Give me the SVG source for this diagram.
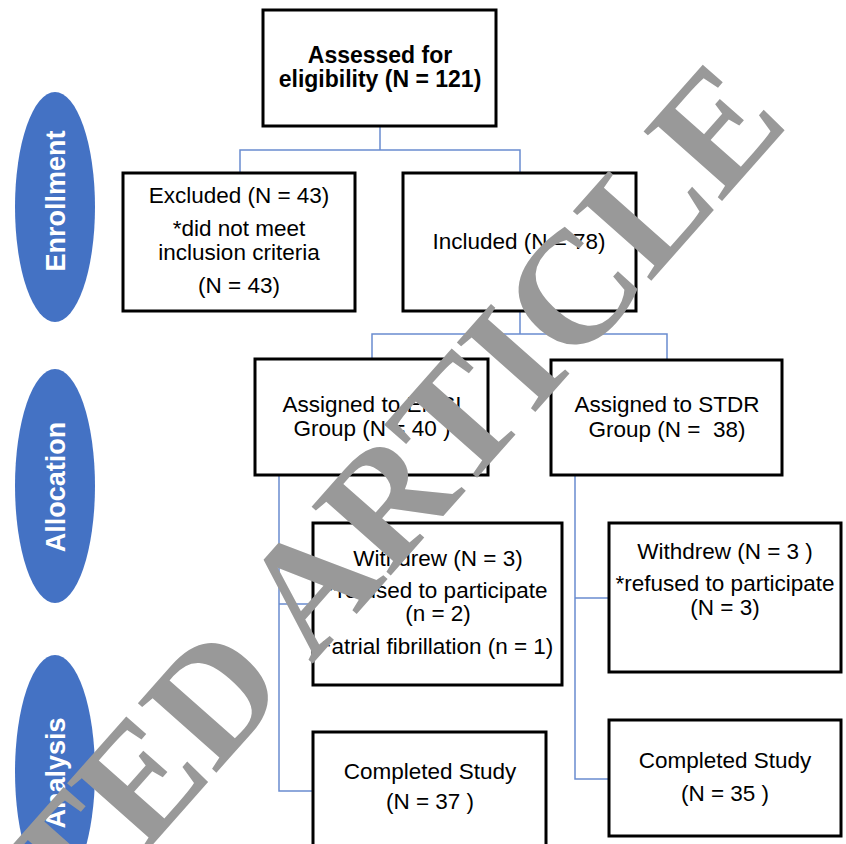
<svg xmlns="http://www.w3.org/2000/svg" width="846" height="844" viewBox="0 0 846 844">
<style>
.box{fill:#fff;stroke:#000;stroke-width:3}
.t{font-family:"Liberation Sans",Arial,sans-serif;font-size:22.5px;fill:#000;text-anchor:middle}
.tb{font-family:"Liberation Sans",Arial,sans-serif;font-size:23px;font-weight:bold;fill:#000;text-anchor:middle}
.ell{fill:#4472c4}
.et{font-family:"Liberation Sans",Arial,sans-serif;font-size:27px;font-weight:bold;fill:#fff;text-anchor:middle}
.c{fill:none;stroke:#6a8cd0;stroke-width:1.5}
.wm{font-family:"Liberation Serif","Times New Roman",serif;font-size:160px;font-weight:bold;fill:#999}
</style>
<rect width="846" height="844" fill="#fff"/>
<g id="connectors">
<path class="c" d="M380 126V150M240 173V150H520V173"/>
<path class="c" d="M520 311V334M372 359V334H667V360"/>
<path class="c" d="M279 475V791H313M279 604H313"/>
<path class="c" d="M575 475V779H609M575 598H609"/>
</g>
<g id="phase-enrollment"><ellipse class="ell" cx="55" cy="207" rx="40" ry="115"/><text class="et" transform="translate(65 201) rotate(-90)">Enrollment</text></g>
<g id="phase-allocation"><ellipse class="ell" cx="55" cy="486" rx="40" ry="117"/><text class="et" transform="translate(65 487) rotate(-90)">Allocation</text></g>
<g id="phase-analysis"><ellipse class="ell" cx="55" cy="772" rx="40" ry="117"/><text class="et" transform="translate(65 773) rotate(-90)">Analysis</text></g>
<g id="assessed"><rect class="box" x="263" y="10" width="233" height="116"/><text class="tb" x="380" y="63">Assessed for</text><text class="tb" x="380" y="87">eligibility (N = 121)</text></g>
<g id="excluded"><rect class="box" x="123" y="173" width="232" height="138"/><text class="t" x="239" y="203">Excluded (N = 43)</text><text class="t" x="239" y="236">*did not meet</text><text class="t" x="239" y="260">inclusion criteria</text><text class="t" x="239" y="293">(N = 43)</text></g>
<g id="included"><rect class="box" x="403" y="173" width="233" height="138"/><text class="t" x="519" y="249">Included (N = 78)</text></g>
<g id="emsi"><rect class="box" x="255" y="359" width="233" height="116"/><text class="t" x="372" y="412">Assigned to EMSI</text><text class="t" x="372" y="436">Group (N = 40 )</text></g>
<g id="stdr"><rect class="box" x="551" y="360" width="231" height="115"/><text class="t" x="667" y="412">Assigned to STDR</text><text class="t" x="667" y="437">Group (N =&#160; 38)</text></g>
<g id="withdrew-emsi"><rect class="box" x="313" y="523" width="249" height="162"/><text class="t" x="438" y="566">Withdrew (N = 3)</text><text class="t" x="438" y="598">*refused to participate</text><text class="t" x="438" y="621">(n = 2)</text><text class="t" x="438" y="654">*atrial fibrillation (n = 1)</text></g>
<g id="withdrew-stdr"><rect class="box" x="609" y="523" width="232" height="149"/><text class="t" x="725" y="559">Withdrew (N = 3 )</text><text class="t" x="725" y="591">*refused to participate</text><text class="t" x="725" y="615">(N = 3)</text></g>
<g id="completed-emsi"><rect class="box" x="313" y="732" width="233" height="130"/><text class="t" x="430" y="779">Completed Study</text><text class="t" x="430" y="809">(N = 37 )</text></g>
<g id="completed-stdr"><rect class="box" x="609" y="720" width="232" height="116"/><text class="t" x="725" y="768">Completed Study</text><text class="t" x="725" y="801">(N = 35 )</text></g>
<text class="wm" x="791" y="123" text-anchor="end" transform="rotate(-48.5 791 123)">RETRACTED ARTICLE</text>
</svg>
